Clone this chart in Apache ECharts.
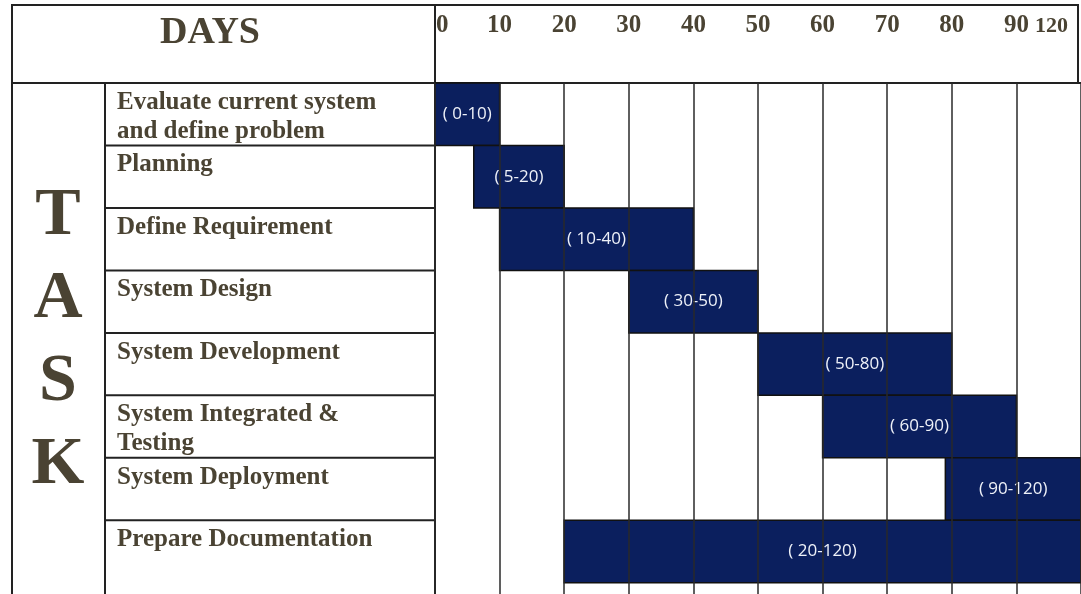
<!DOCTYPE html>
<html>
<head>
<meta charset="utf-8">
<script src="https://cdn.jsdelivr.net/npm/echarts@6/dist/echarts.min.js"></script>
<style>
html, body { margin: 0; padding: 0; background: #fff; }
#main { width: 1081px; height: 594px; }
</style>
</head>
<body>
<div id="main"></div>
<script>
var tasks = [
    'Evaluate current system\nand define problem',
    'Planning',
    'Define Requirement',
    'System Design',
    'System Development',
    'System Integrated &\nTesting',
    'System Deployment',
    'Prepare Documentation'
];
// start / end in days, as drawn
var startDays = [0, 6, 10, 30, 50, 60, 79, 20];
var endDays = [10, 20, 40, 50, 80, 90, 120, 120];
var barLabels = ['( 0-10)', '( 5-20)', '( 10-40)', '( 30-50)', '( 50-80)', '( 60-90)', '( 90-120)', '( 20-120)'];
var tickLabels = ['0', '10', '20', '30', '40', '50', '60', '70', '80', '90', '120'];

var serif = '"Liberation Serif", "DejaVu Serif", serif';
var ink = '#4a4333';
var navy = '#0b1f5e';
var rowsMax = 8.18;

// axis runs in columns: ten days each, the last column holds 90-120
function dayToCol(d) {
    return d <= 90 ? d / 10 : 9 + (d - 90) / 30;
}

var chart = echarts.init(document.getElementById('main'));

var option = {
    backgroundColor: '#fff',
    animation: false,
    grid: [
        { left: 435, right: 0, top: 83, bottom: 0 },
        { left: 105, width: 330, top: 83, bottom: 0 }
    ],
    xAxis: [
        {
            gridIndex: 0,
            type: 'value',
            position: 'top',
            min: 0,
            max: 10,
            interval: 1,
            z: 5,
            axisLine: { show: false },
            axisTick: { show: false },
            splitLine: { show: true, lineStyle: { color: '#2a2a2a', width: 1.5 } },
            axisLabel: {
                margin: 57,
                verticalAlign: 'middle',
                alignMinLabel: 'left',
                alignMaxLabel: 'right',
                fontFamily: serif,
                fontWeight: 'bold',
                fontSize: 25,
                color: ink,
                formatter: function (v) {
                    var i = Math.round(v);
                    if (i === 0) return '{l|' + tickLabels[i] + '}';
                    if (i === 10) return '{r|' + tickLabels[i] + '}';
                    return tickLabels[i];
                },
                rich: {
                    l: { fontFamily: serif, fontWeight: 'bold', fontSize: 25, color: ink, padding: [0, 0, 0, 1] },
                    r: { fontFamily: serif, fontWeight: 'bold', fontSize: 22, color: ink, padding: [0, 13, 0, 0] }
                }
            }
        },
        { gridIndex: 1, type: 'value', min: 0, max: 1, show: false }
    ],
    yAxis: [
        { gridIndex: 0, type: 'value', inverse: true, min: 0, max: rowsMax, show: false },
        { gridIndex: 1, type: 'value', inverse: true, min: 0, max: rowsMax, show: false }
    ],
    graphic: [
        { type: 'rect', shape: { x: 12, y: 5, width: 1066, height: 78 }, style: { fill: 'none', stroke: '#222', lineWidth: 2 } },
        { type: 'line', shape: { x1: 435, y1: 5, x2: 435, y2: 594 }, style: { stroke: '#222', lineWidth: 2 } },
        { type: 'line', shape: { x1: 105, y1: 83, x2: 105, y2: 594 }, style: { stroke: '#222', lineWidth: 2 } },
        { type: 'line', shape: { x1: 12, y1: 83, x2: 1081, y2: 83 }, style: { stroke: '#222', lineWidth: 2 } },
        { type: 'line', shape: { x1: 12, y1: 83, x2: 12, y2: 594 }, style: { stroke: '#222', lineWidth: 2 } },
        {
            type: 'text', x: 210, y: 33,
            style: { text: 'DAYS', font: 'bold 38px ' + serif, fill: ink, align: 'center', verticalAlign: 'middle' }
        },
        {
            type: 'text', x: 58, y: 341,
            style: { text: 'T\nA\nS\nK', font: 'bold 68px ' + serif, lineHeight: 83, fill: ink, align: 'center', verticalAlign: 'middle' }
        }
    ],
    series: [
        {
            type: 'custom',
            xAxisIndex: 0,
            yAxisIndex: 0,
            data: tasks.map(function (t, i) {
                return [dayToCol(startDays[i]), dayToCol(endDays[i]), i];
            }),
            encode: { x: [0, 1], y: 2 },
            renderItem: function (params, api) {
                var p0 = api.coord([api.value(0), api.value(2)]);
                var p1 = api.coord([api.value(1), api.value(2) + 1]);
                return {
                    type: 'rect',
                    shape: { x: p0[0], y: p0[1], width: p1[0] - p0[0], height: p1[1] - p0[1] },
                    style: { fill: navy, stroke: '#111', lineWidth: 1.5 },
                    textContent: {
                        style: {
                            text: barLabels[params.dataIndex],
                            fill: '#eef1f8',
                            font: '17px "Open Sans", "Liberation Sans", sans-serif'
                        }
                    },
                    textConfig: { position: 'inside' }
                };
            }
        },
        {
            // task names, one cell per row with a rule on top
            type: 'custom',
            xAxisIndex: 1,
            yAxisIndex: 1,
            data: tasks.map(function (t, i) { return [0, i]; }),
            renderItem: function (params, api) {
                var p = api.coord([0, api.value(1)]);
                var p1 = api.coord([1, api.value(1)]);
                return {
                    type: 'group',
                    children: [
                        {
                            type: 'line',
                            shape: { x1: p[0], y1: p[1], x2: p1[0], y2: p[1] },
                            style: { stroke: '#222', lineWidth: 2 }
                        },
                        {
                            type: 'text',
                            x: p[0] + 12,
                            y: p[1] + 5,
                            style: {
                                text: tasks[params.dataIndex],
                                font: 'bold 25px ' + serif,
                                lineHeight: 29,
                                fill: ink,
                                verticalAlign: 'top'
                            }
                        }
                    ]
                };
            }
        }
    ]
};

chart.setOption(option);
</script>
</body>
</html>
